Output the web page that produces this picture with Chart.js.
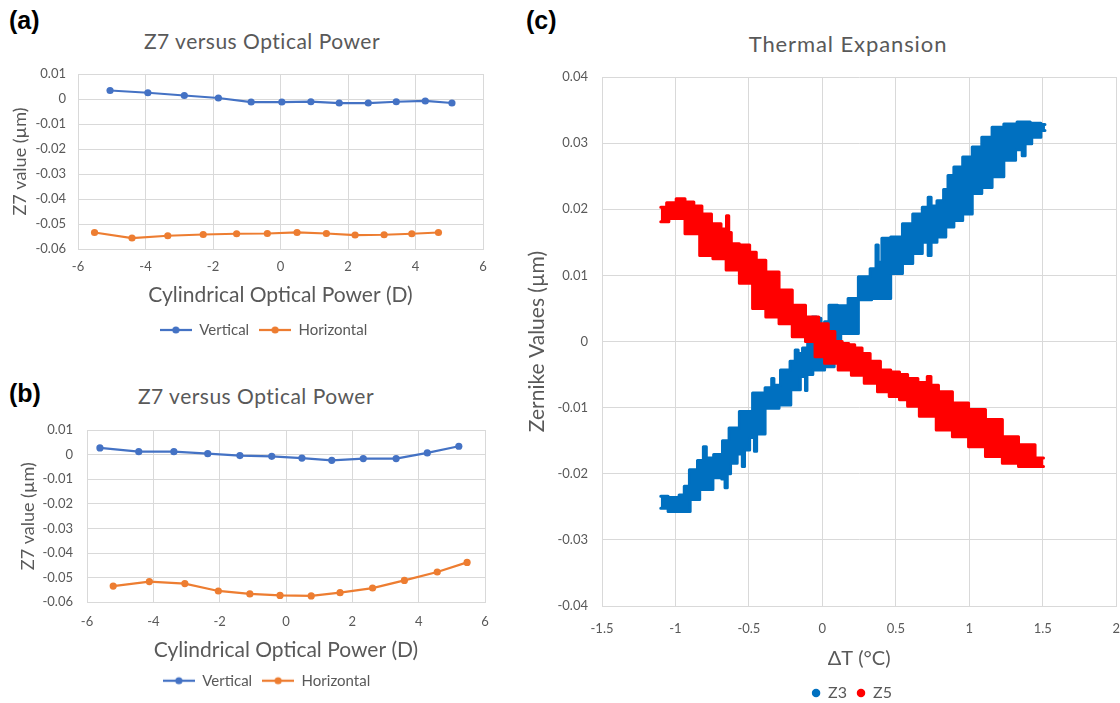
<!DOCTYPE html>
<html>
<head>
<meta charset="utf-8">
<script src="https://cdn.jsdelivr.net/npm/chart.js@4.4.1/dist/chart.umd.min.js"></script>
<style>
  html, body { margin: 0; padding: 0; background: #fff; width: 1120px; height: 703px; overflow: hidden; }
  .box { position: absolute; }
  .panel { position: absolute; font: bold 25px "Liberation Sans", Arial, sans-serif; color: #000; transform: translateY(-50%); }
  .ttl { position: absolute; font: 21px Lato, sans-serif; letter-spacing: 0.5px; color: #595959; white-space: nowrap; transform: translate(-50%, -50%); }
</style>
</head>
<body>
<div class="panel" style="left:9px; top:20px">(a)</div>
<div class="panel" style="left:9px; top:393px">(b)</div>
<div class="panel" style="left:526px; top:20px">(c)</div>
<div class="ttl" style="left:262px; top:40px">Z7 versus Optical Power</div>
<div class="ttl" style="left:256px; top:395px">Z7 versus Optical Power</div>
<div class="ttl" style="left:848px; top:43px; font-size:22px; letter-spacing:0.9px">Thermal Expansion</div>

<div class="box" style="left:0; top:0; width:520px; height:350px"><canvas id="chartA"></canvas></div>
<div class="box" style="left:0; top:350px; width:520px; height:353px"><canvas id="chartB"></canvas></div>
<div class="box" style="left:520px; top:0; width:615px; height:715px"><canvas id="chartC"></canvas></div>

<script>
// data panel (a)
const aVertX = [-5.05, -3.93, -2.85, -1.84, -0.87, 0.04, 0.9, 1.74, 2.6, 3.43, 4.29, 5.08];
const aVertY = [0.0034, 0.0025, 0.0014, 0.0004, -0.0012, -0.0012, -0.0011, -0.0016, -0.0016, -0.0011, -0.0008, -0.0016];
const aHorX = [-5.51, -4.4, -3.34, -2.29, -1.3, -0.39, 0.49, 1.36, 2.21, 3.07, 3.89, 4.68];
const aHorY = [-0.0534, -0.0556, -0.0547, -0.0542, -0.0539, -0.0538, -0.0534, -0.0538, -0.0544, -0.0543, -0.0539, -0.0534];

// data panel (b)
const bVertX = [-5.61, -4.44, -3.38, -2.36, -1.39, -0.43, 0.48, 1.38, 2.33, 3.32, 4.26, 5.21];
const bVertY = [0.0027, 0.0012, 0.0012, 0.0004, -0.0004, -0.0007, -0.0014, -0.0023, -0.0016, -0.0016, 0.0007, 0.0034];
const bHorX = [-5.21, -4.12, -3.05, -2.04, -1.09, -0.18, 0.76, 1.63, 2.61, 3.57, 4.56, 5.46];
const bHorY = [-0.0534, -0.0516, -0.0524, -0.0554, -0.0566, -0.0572, -0.0574, -0.0561, -0.0542, -0.0511, -0.0477, -0.0438];

// tick labels (a)/(b)
const z7XTicks = ["-6", "-4", "-2", "0", "2", "4", "6"];
const z7YTicks = ["-0.06", "-0.05", "-0.04", "-0.03", "-0.02", "-0.01", "0", "0.01"];

// data panel (c): upper and lower edge of each measured band
const z3TopX = [-1.10, -1.0, -0.95, -0.93, -0.88, -0.82, -0.80, -0.78, -0.70, -0.66, -0.61, -0.52, -0.43, -0.35, -0.34, -0.32, -0.25, -0.19, -0.18, -0.15, -0.12, -0.08, -0.06, -0.02, 0.0, 0.03, 0.06, 0.15, 0.20, 0.29, 0.36, 0.37, 0.39, 0.42, 0.51, 0.58, 0.65, 0.71, 0.73, 0.75, 0.81, 0.84, 0.87, 0.92, 0.99, 1.05, 1.12, 1.19, 1.28, 1.37, 1.46, 1.515];
const z3TopY = [-0.0234, -0.0236, -0.0232, -0.0219, -0.0194, -0.0180, -0.0159, -0.0176, -0.0171, -0.0150, -0.0131, -0.0106, -0.0078, -0.0070, -0.0056, -0.0066, -0.0043, -0.0030, -0.0013, -0.0018, -0.0010, 0.0005, 0.0037, 0.0035, 0.0015, 0.0030, 0.0055, 0.0054, 0.0065, 0.0098, 0.0110, 0.0146, 0.0120, 0.0156, 0.0158, 0.0178, 0.0193, 0.0203, 0.0218, 0.0205, 0.0213, 0.0230, 0.0251, 0.0264, 0.0279, 0.0294, 0.0309, 0.0324, 0.0329, 0.0332, 0.0330, 0.0328];
const z3BotX = [-1.10, -1.0, -0.92, -0.88, -0.79, -0.70, -0.67, -0.655, -0.64, -0.61, -0.55, -0.54, -0.52, -0.47, -0.455, -0.44, -0.34, -0.25, -0.18, -0.12, -0.11, -0.10, -0.03, 0.06, 0.10, 0.15, 0.20, 0.29, 0.38, 0.42, 0.51, 0.58, 0.65, 0.71, 0.73, 0.75, 0.81, 0.87, 0.92, 0.99, 1.05, 1.12, 1.19, 1.28, 1.35, 1.37, 1.39, 1.46, 1.515];
const z3BotY = [-0.0252, -0.0257, -0.0257, -0.0239, -0.0224, -0.0206, -0.0208, -0.0221, -0.0200, -0.0184, -0.0170, -0.0189, -0.0164, -0.0145, -0.0166, -0.0140, -0.0101, -0.0096, -0.0073, -0.0053, -0.0074, -0.0050, -0.0043, -0.0038, -0.0010, 0.0012, 0.0012, 0.0063, 0.0065, 0.0065, 0.0103, 0.0118, 0.0133, 0.0150, 0.0130, 0.0150, 0.0158, 0.0173, 0.0183, 0.0193, 0.0224, 0.0233, 0.0249, 0.0274, 0.0290, 0.0281, 0.0299, 0.0309, 0.0319];
const z5TopX = [-1.10, -1.02, -0.97, -0.90, -0.85, -0.79, -0.72, -0.66, -0.645, -0.63, -0.61, -0.52, -0.47, -0.43, -0.34, -0.25, -0.16, -0.07, 0.02, 0.06, 0.11, 0.16, 0.20, 0.24, 0.30, 0.35, 0.44, 0.49, 0.56, 0.60, 0.70, 0.728, 0.75, 0.83, 0.94, 1.05, 1.17, 1.28, 1.39, 1.505];
const z5TopY = [0.0203, 0.0210, 0.0216, 0.0211, 0.0205, 0.0193, 0.0178, 0.0170, 0.0190, 0.0165, 0.0148, 0.0146, 0.0135, 0.0123, 0.0105, 0.0078, 0.0055, 0.0037, 0.0027, 0.0015, 0.0000, -0.0003, -0.0005, -0.0010, -0.0018, -0.0030, -0.0043, -0.0046, -0.0050, -0.0056, -0.0062, -0.0053, -0.0066, -0.0076, -0.0093, -0.0103, -0.0118, -0.0144, -0.0156, -0.0176];
const z5BotX = [-1.10, -0.99, -0.88, -0.79, -0.70, -0.61, -0.52, -0.43, -0.34, -0.25, -0.16, -0.07, -0.03, 0.06, 0.155, 0.24, 0.33, 0.42, 0.49, 0.56, 0.60, 0.72, 0.83, 0.94, 1.05, 1.17, 1.28, 1.39, 1.505];
const z5BotY = [0.0181, 0.0186, 0.0163, 0.0130, 0.0125, 0.0108, 0.0088, 0.0050, 0.0037, 0.0027, 0.0007, 0.0000, -0.0023, -0.0033, -0.0043, -0.0051, -0.0063, -0.0076, -0.0083, -0.0088, -0.0098, -0.0113, -0.0134, -0.0144, -0.0159, -0.0174, -0.0184, -0.0189, -0.0189];

// tick labels (c)
const cXTicks = ["-1.5", "-1", "-0.5", "0", "0.5", "1", "1.5", "2"];
const cYTicks = ["-0.04", "-0.03", "-0.02", "-0.01", "0", "0.01", "0.02", "0.03", "0.04"];

const blue = "#4472C4";
const orange = "#ED7D31";
const z3Color = "#0070C0";
const z5Color = "#FF0000";
const gridColor = "#d9d9d9";
const textColor = "#595959";
const fontFam = "Lato, 'Open Sans', sans-serif";

function pts(xs, ys) {
  return xs.map((x, i) => ({ x: x, y: ys[i] }));
}

// small line + dot marker used in the legend of (a) and (b)
function legendMark(color) {
  const c = document.createElement("canvas");
  c.width = 32;
  c.height = 10;
  const g = c.getContext("2d");
  g.strokeStyle = color;
  g.lineWidth = 2.25;
  g.beginPath();
  g.moveTo(0, 5);
  g.lineTo(32, 5);
  g.stroke();
  g.fillStyle = color;
  g.beginPath();
  g.arc(16, 5, 3.6, 0, Math.PI * 2);
  g.fill();
  return c;
}

// move the legend sideways after layout
const legendShift = {
  id: "legendShift",
  afterLayout(chart, args, opts) {
    const lg = chart.legend;
    if (lg && opts.dx) {
      lg.left += opts.dx;
      lg.right += opts.dx;
    }
  },
};

function z7Chart(id, vX, vY, hX, hY, L) {
  return new Chart(document.getElementById(id), {
    type: "line",
    data: {
      datasets: [
        { label: "Vertical", data: pts(vX, vY), borderColor: blue, backgroundColor: blue, borderWidth: 2.25, pointRadius: 3.6, pointBorderWidth: 0, tension: 0 },
        { label: "Horizontal", data: pts(hX, hY), borderColor: orange, backgroundColor: orange, borderWidth: 2.25, pointRadius: 3.6, pointBorderWidth: 0, tension: 0 },
      ],
    },
    options: {
      responsive: true,
      maintainAspectRatio: false,
      animation: false,
      layout: { padding: { top: L.top, right: L.right, bottom: L.bottom, left: 0 } },
      plugins: {
        tooltip: { enabled: false },
        legendShift: { dx: L.legendDx },
        legend: {
          position: "bottom",
          labels: {
            color: textColor,
            font: { family: fontFam, size: 15 },
            padding: 10,
            usePointStyle: true,
            pointStyleWidth: 32,
            generateLabels: (chart) =>
              chart.data.datasets.map((ds, i) => ({
                text: ds.label,
                fillStyle: ds.borderColor,
                strokeStyle: ds.borderColor,
                lineWidth: 0,
                pointStyle: legendMark(ds.borderColor),
                hidden: false,
                datasetIndex: i,
                fontColor: textColor,
              })),
          },
        },
      },
      scales: {
        x: {
          type: "linear",
          min: -6,
          max: 6,
          ticks: { stepSize: 2, padding: L.xTickPad, color: textColor, font: { family: fontFam, size: 13 }, callback: (v, i) => z7XTicks[i] },
          grid: { color: gridColor, drawTicks: false },
          border: { color: gridColor },
          title: { display: true, text: "Cylindrical Optical Power (D)", color: textColor, font: { family: fontFam, size: 21 }, padding: { top: 0, bottom: L.xTitlePad } },
          afterFit: (s) => { s.height = L.xH; },
        },
        y: {
          min: -0.06,
          max: 0.01,
          ticks: { stepSize: 0.01, padding: L.yTickPad, color: textColor, font: { family: fontFam, size: 13 }, callback: (v, i) => z7YTicks[i] },
          grid: { color: gridColor, drawTicks: false },
          border: { color: gridColor },
          title: { display: true, text: "Z7 value (µm)", color: textColor, font: { family: fontFam, size: 18 }, padding: { top: L.yTitlePad, bottom: 0 } },
          afterFit: (s) => { s.width = L.yW; },
        },
      },
    },
    plugins: [legendShift],
  });
}

z7Chart("chartA", aVertX, aVertY, aHorX, aHorY, {
  top: 74, right: 37, bottom: 2.5, xH: 63.5, yW: 78,
  xTickPad: 10, xTitlePad: 4.9, yTickPad: 12, yTitlePad: 9.2, legendDx: 22,
});

z7Chart("chartB", bVertX, bVertY, bHorX, bHorY, {
  top: 80, right: 35, bottom: 4.8, xH: 60.9, yW: 87,
  xTickPad: 11.6, xTitlePad: 0.6, yTickPad: 14, yTitlePad: 17.2, legendDx: 24,
});

function band(label, xs, ys, color, fill, order) {
  return {
    label: label,
    data: pts(xs, ys),
    borderColor: color,
    backgroundColor: color,
    borderWidth: 3,
    borderJoinStyle: "round",
    borderCapStyle: "round",
    pointRadius: 0,
    tension: 0,
    stepped: "middle",
    fill: fill,
    order: order,
  };
}

new Chart(document.getElementById("chartC"), {
  type: "line",
  data: {
    datasets: [
      band("Z3", z3TopX, z3TopY, z3Color, false, 2),
      band("Z3 low", z3BotX, z3BotY, z3Color, "-1", 2),
      band("Z5", z5TopX, z5TopY, z5Color, false, 1),
      band("Z5 low", z5BotX, z5BotY, z5Color, "-1", 1),
    ],
  },
  options: {
    responsive: true,
    maintainAspectRatio: false,
    animation: false,
    layout: { padding: { top: 77, right: 15, bottom: 4, left: 0 } },
    plugins: {
      tooltip: { enabled: false },
      legendShift: { dx: 32 },
      legend: {
        position: "bottom",
        labels: {
          color: textColor,
          font: { family: fontFam, size: 16 },
          padding: 10,
          usePointStyle: true,
          boxWidth: 8,
          boxHeight: 6,
          generateLabels: () => [
            { text: "Z3", fillStyle: z3Color, strokeStyle: z3Color, lineWidth: 0, pointStyle: "circle", hidden: false, datasetIndex: 0, fontColor: textColor },
            { text: "Z5", fillStyle: z5Color, strokeStyle: z5Color, lineWidth: 0, pointStyle: "circle", hidden: false, datasetIndex: 2, fontColor: textColor },
          ],
        },
      },
    },
    scales: {
      x: {
        type: "linear",
        min: -1.5,
        max: 2,
        ticks: { stepSize: 0.5, padding: 15, color: textColor, font: { family: fontFam, size: 13 }, callback: (v, i) => cXTicks[i] },
        grid: { color: gridColor, drawTicks: false },
        border: { color: gridColor },
        title: { display: true, text: "ΔT (°C)", color: textColor, font: { family: fontFam, size: 20 }, padding: { top: 0, bottom: 4.7 } },
        afterFit: (s) => { s.height = 69; },
      },
      y: {
        min: -0.04,
        max: 0.04,
        ticks: { stepSize: 0.01, padding: 14, color: textColor, font: { family: fontFam, size: 13 }, callback: (v, i) => cYTicks[i] },
        grid: { color: gridColor, drawTicks: false },
        border: { color: gridColor },
        title: { display: true, text: "Zernike Values (µm)", color: textColor, font: { family: fontFam, size: 21 }, padding: { top: 4.4, bottom: 0 } },
        afterFit: (s) => { s.width = 82; },
      },
    },
  },
  plugins: [legendShift],
});
</script>
</body>
</html>
